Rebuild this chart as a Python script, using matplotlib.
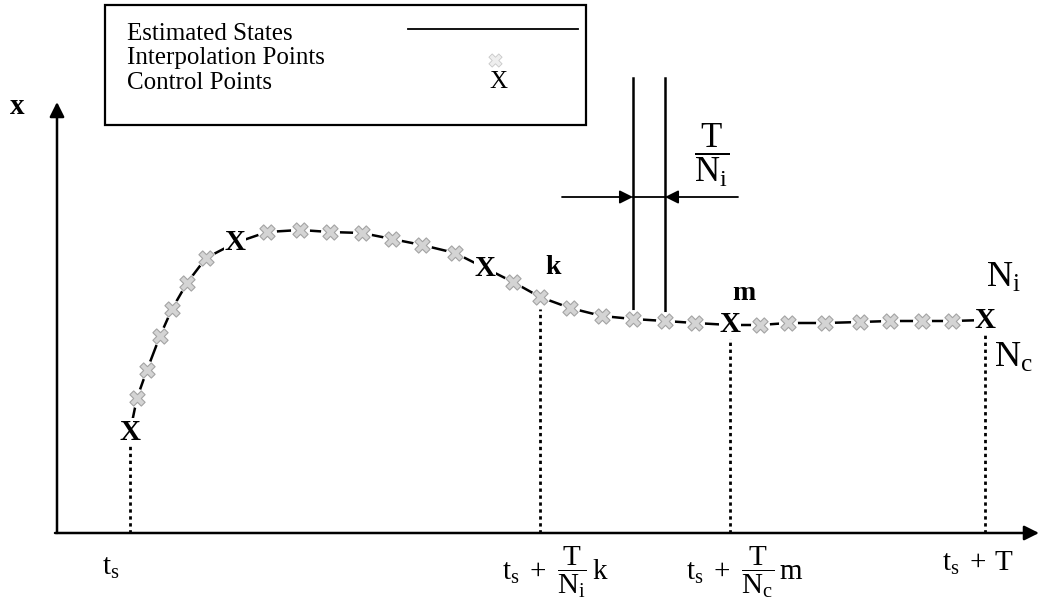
import numpy as np
import matplotlib.pyplot as plt
from matplotlib.patches import Rectangle

plt.rcParams['font.family'] = ['Liberation Serif', 'DejaVu Serif']
plt.rcParams['mathtext.fontset'] = 'custom'
plt.rcParams['mathtext.rm'] = 'Liberation Serif'
plt.rcParams['mathtext.it'] = 'Liberation Serif'
plt.rcParams['mathtext.bf'] = 'Liberation Serif:bold'

# points (time, state), origin at the axes corner
control_t = [73, 178, 428, 673, 928]
control_x = [101, 290, 265, 208, 213]
interp_t = [80, 90, 103, 115, 130, 149, 210, 243, 273, 305, 335, 365, 398,
            456, 483, 513, 545, 576, 608, 638, 703, 731, 768, 803, 833, 865, 895]
interp_x = [135, 163, 197, 224, 250, 275, 301, 303, 301, 300, 294, 288, 280,
            251, 236, 225, 217, 214, 212, 210, 208, 210, 210, 211, 212, 212, 212]

legend_labels = ["Estimated States", "Interpolation Points", "Control Points"]
tick_t = [73, 483, 673, 928]
tick_labels = [r"$\mathrm{t_s}$",
               r"$\mathrm{t_s\;+\;\dfrac{T}{N_i}\,k}$",
               r"$\mathrm{t_s\;+\;\dfrac{T}{N_c}\,m}$",
               r"$\mathrm{t_s\;+\,T}$"]
step_t = [576, 608]   # the two lines marking one interpolation step

fig = plt.figure(figsize=(10.39, 6.15), dpi=100)
ax = fig.add_axes([0, 0, 1, 1])
ax.set_xlim(-57, 982)
ax.set_ylim(-82, 533)
ax.axis('off')

# axes with arrow heads
ax.annotate("", xy=(982, 0), xytext=(-2, 0),
            arrowprops=dict(arrowstyle='-|>', lw=1.8, color='black', mutation_scale=22, shrinkA=0, shrinkB=0))
ax.annotate("", xy=(0, 431), xytext=(0, 0),
            arrowprops=dict(arrowstyle='-|>', lw=1.8, color='black', mutation_scale=22, shrinkA=0, shrinkB=0))
ax.text(-40, 426, "x", fontsize=21, fontweight='bold', ha='center', va='center')

# curve through all points
all_t = np.array(control_t + interp_t)
all_x = np.array(control_x + interp_x)
order = np.argsort(all_t)
ax.plot(all_t[order], all_x[order], color='black', lw=1.8, zorder=2)

# dotted drop lines
curve_at = dict(zip(all_t.tolist(), all_x.tolist()))
for t in tick_t:
    ax.plot([t, t], [0, curve_at[t] - 12], color='black', lw=2, ls=(0, (1.2, 1.3)), zorder=1)

# interpolation markers
ax.scatter(interp_t, interp_x, marker='o', s=160, color='white', zorder=3)
ax.scatter(interp_t, interp_x, marker='X', s=120, facecolor='#d4d4d4', edgecolor='#a4a4a4', lw=0.8, zorder=4)

# control points
for t, x in zip(control_t, control_x):
    ax.text(t, x, "X", fontsize=21, fontweight='bold', ha='center', va='center', zorder=5,
            bbox=dict(boxstyle='square,pad=0.02', fc='white', ec='none'))

# step width indicator
for t in step_t:
    ax.plot([t, t], [curve_at[t], 455], color='black', lw=1.8, zorder=1)
ax.plot(step_t, [336, 336], color='black', lw=1.3)
ax.annotate("", xy=(step_t[0], 336), xytext=(505, 336),
            arrowprops=dict(arrowstyle='-|>', lw=1.3, color='black', mutation_scale=20, shrinkA=0, shrinkB=0))
ax.annotate("", xy=(step_t[1], 336), xytext=(681, 336),
            arrowprops=dict(arrowstyle='-|>', lw=1.3, color='black', mutation_scale=20, shrinkA=0, shrinkB=0))
ax.text(655, 378, r"$\mathrm{\dfrac{T}{N_i}}$", fontsize=25, ha='center', va='center')

# point labels
ax.text(496, 266, "k", fontsize=20, fontweight='bold', ha='center', va='center')
ax.text(687, 239, "m", fontsize=20, fontweight='bold', ha='center', va='center')
ax.text(929, 255, r"$\mathrm{N_i}$", fontsize=26, ha='left', va='center')
ax.text(937, 175, r"$\mathrm{N_c}$", fontsize=26, ha='left', va='center')

# time labels under the axis
tick_pos = [(45, -35, 'left'), (498, -39, 'center'), (688, -39, 'center'), (921, -30, 'center')]
for (t, y, ha), lab in zip(tick_pos, tick_labels):
    ax.text(t, y, lab, fontsize=21, ha=ha, va='center')

# legend box
ax.add_patch(Rectangle((48, 408), 481, 120, fill=False, ec='black', lw=1.6, zorder=6))
for y, lab in zip([499, 475, 450], legend_labels):
    ax.text(70, y, lab, fontsize=18, ha='left', va='center')
ax.plot([351, 521], [504, 504], color='black', lw=1.3)
ax.scatter([438], [473], marker='X', s=90, facecolor='#eeeeee', edgecolor='#c8c8c8', lw=0.6)
ax.text(441, 451, "X", fontsize=18, ha='center', va='center')

fig.savefig("out.png", dpi=100)
